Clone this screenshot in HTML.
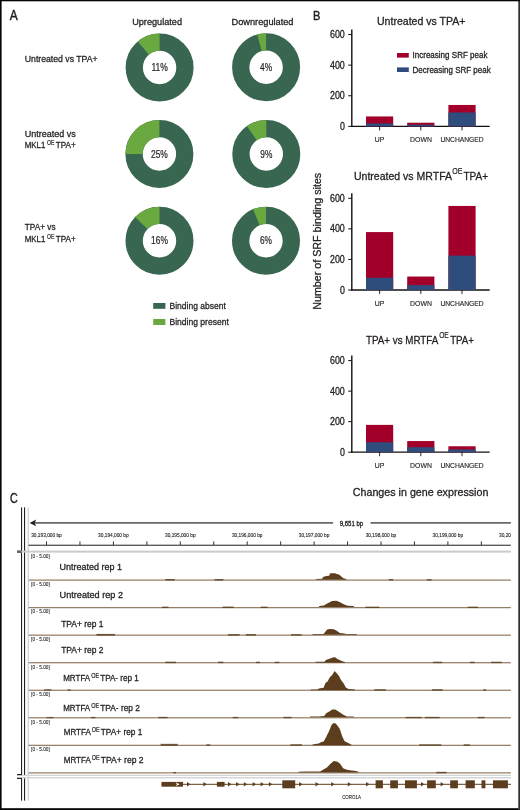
<!DOCTYPE html>
<html><head><meta charset="utf-8"><style>html,body{margin:0;padding:0;background:#fff;}svg{display:block;filter:blur(0.4px);}</style></head>
<body><svg width="520" height="810" viewBox="0 0 520 810" font-family="Liberation Sans, sans-serif" stroke-linejoin="round"><rect x="0" y="0" width="520" height="810" fill="#fff"/>
<rect x="518.3" y="0" width="1.7" height="810" fill="#303030"/>
<rect x="0" y="0" width="520" height="1.3" fill="#050505"/>
<rect x="0" y="0" width="1.6" height="810" fill="#050505"/>
<rect x="0" y="808.2" width="518.5" height="1.8" fill="#050505"/>
<text x="9.8" y="19.6" font-size="13.8" fill="#231f20" stroke="#231f20" stroke-width="0.45" textLength="8.0" lengthAdjust="spacingAndGlyphs">A</text>
<text x="312.9" y="19.5" font-size="13.2" fill="#231f20" stroke="#231f20" stroke-width="0.45" textLength="7.4" lengthAdjust="spacingAndGlyphs">B</text>
<text x="10.0" y="503.2" font-size="13.8" fill="#231f20" stroke="#231f20" stroke-width="0.45" textLength="7.7" lengthAdjust="spacingAndGlyphs">C</text>
<text x="132.2" y="25" font-size="9.6" fill="#231f20" stroke="#231f20" stroke-width="0.3" textLength="49.8" lengthAdjust="spacingAndGlyphs">Upregulated</text>
<text x="231.5" y="25" font-size="9.6" fill="#231f20" stroke="#231f20" stroke-width="0.3" textLength="62.0" lengthAdjust="spacingAndGlyphs">Downregulated</text>
<circle cx="159.6" cy="67.5" r="25.35" fill="none" stroke="#386650" stroke-width="17.3"/>
<path d="M159.6,33.5 A34,34 0 0 0 137.75,41.45 L148.87,54.71 A16.7,16.7 0 0 1 159.6,50.8 Z" fill="#6aa840"/>
<text x="159.6" y="71.0" font-size="10.0" fill="#231f20" stroke="#231f20" stroke-width="0.2" text-anchor="middle" textLength="16.4" lengthAdjust="spacingAndGlyphs">11%</text>
<circle cx="266.1" cy="67.3" r="25.35" fill="none" stroke="#386650" stroke-width="17.3"/>
<path d="M266.1,33.3 A34,34 0 0 0 257.19,34.49 L261.72,51.18 A16.7,16.7 0 0 1 266.1,50.599999999999994 Z" fill="#6aa840"/>
<text x="266.1" y="70.8" font-size="10.0" fill="#231f20" stroke="#231f20" stroke-width="0.2" text-anchor="middle" textLength="12.0" lengthAdjust="spacingAndGlyphs">4%</text>
<circle cx="159.4" cy="154" r="25.35" fill="none" stroke="#386650" stroke-width="17.3"/>
<path d="M159.4,120 A34,34 0 0 0 125.40,154.00 L142.70,154.00 A16.7,16.7 0 0 1 159.4,137.3 Z" fill="#6aa840"/>
<text x="159.4" y="157.5" font-size="10.0" fill="#231f20" stroke="#231f20" stroke-width="0.2" text-anchor="middle" textLength="16.8" lengthAdjust="spacingAndGlyphs">25%</text>
<circle cx="266.3" cy="154" r="25.35" fill="none" stroke="#386650" stroke-width="17.3"/>
<path d="M266.3,120 A34,34 0 0 0 246.90,126.08 L256.77,140.29 A16.7,16.7 0 0 1 266.3,137.3 Z" fill="#6aa840"/>
<text x="266.3" y="157.5" font-size="10.0" fill="#231f20" stroke="#231f20" stroke-width="0.2" text-anchor="middle" textLength="12.0" lengthAdjust="spacingAndGlyphs">9%</text>
<circle cx="159.5" cy="240.7" r="25.35" fill="none" stroke="#386650" stroke-width="17.3"/>
<path d="M159.5,206.7 A34,34 0 0 0 135.04,217.08 L147.49,229.10 A16.7,16.7 0 0 1 159.5,224.0 Z" fill="#6aa840"/>
<text x="159.5" y="244.2" font-size="10.0" fill="#231f20" stroke="#231f20" stroke-width="0.2" text-anchor="middle" textLength="16.8" lengthAdjust="spacingAndGlyphs">16%</text>
<circle cx="266" cy="240.7" r="25.35" fill="none" stroke="#386650" stroke-width="17.3"/>
<path d="M266,206.7 A34,34 0 0 0 253.04,209.27 L259.64,225.26 A16.7,16.7 0 0 1 266,224.0 Z" fill="#6aa840"/>
<text x="266" y="244.2" font-size="10.0" fill="#231f20" stroke="#231f20" stroke-width="0.2" text-anchor="middle" textLength="12.0" lengthAdjust="spacingAndGlyphs">6%</text>
<text x="24.8" y="61.5" font-size="9.8" fill="#231f20" stroke="#231f20" stroke-width="0.3" textLength="72.8" lengthAdjust="spacingAndGlyphs">Untreated vs TPA+</text>
<text x="24.8" y="136.5" font-size="9.8" fill="#231f20" stroke="#231f20" stroke-width="0.3" textLength="51.0" lengthAdjust="spacingAndGlyphs">Untreated vs</text>
<text x="24.8" y="147.8" font-size="9.5" fill="#231f20" stroke="#231f20" stroke-width="0.3" textLength="20.6" lengthAdjust="spacingAndGlyphs">MKL1</text>
<text x="47.0" y="144.5" font-size="7.2" fill="#231f20" stroke="#231f20" stroke-width="0.2" textLength="7.4" lengthAdjust="spacingAndGlyphs">OE</text>
<text x="55.8" y="147.8" font-size="9.5" fill="#231f20" stroke="#231f20" stroke-width="0.3" textLength="20.0" lengthAdjust="spacingAndGlyphs">TPA+</text>
<text x="24.8" y="230" font-size="9.8" fill="#231f20" stroke="#231f20" stroke-width="0.3" textLength="30.8" lengthAdjust="spacingAndGlyphs">TPA+ vs</text>
<text x="24.8" y="241.8" font-size="9.5" fill="#231f20" stroke="#231f20" stroke-width="0.3" textLength="20.6" lengthAdjust="spacingAndGlyphs">MKL1</text>
<text x="47.0" y="238.5" font-size="7.2" fill="#231f20" stroke="#231f20" stroke-width="0.2" textLength="7.4" lengthAdjust="spacingAndGlyphs">OE</text>
<text x="55.8" y="241.8" font-size="9.5" fill="#231f20" stroke="#231f20" stroke-width="0.3" textLength="20.0" lengthAdjust="spacingAndGlyphs">TPA+</text>
<rect x="153.2" y="303" width="12.2" height="5.8" fill="#386650"/>
<rect x="153.2" y="319" width="12.2" height="6" fill="#6aa840"/>
<text x="169.5" y="308.9" font-size="9.8" fill="#231f20" stroke="#231f20" stroke-width="0.3" textLength="56.3" lengthAdjust="spacingAndGlyphs">Binding absent</text>
<text x="169.5" y="325" font-size="9.8" fill="#231f20" stroke="#231f20" stroke-width="0.3" textLength="59.3" lengthAdjust="spacingAndGlyphs">Binding present</text>
<line x1="351.8" y1="29.5" x2="351.8" y2="127.0" stroke="#111" stroke-width="1.4"/>
<line x1="351.1" y1="126.4" x2="489.7" y2="126.4" stroke="#111" stroke-width="1.3"/>
<line x1="348.2" y1="126.40" x2="351.8" y2="126.40" stroke="#111" stroke-width="1"/>
<text x="344.8" y="129.9" font-size="10" fill="#231f20" stroke="#231f20" stroke-width="0.3" text-anchor="end" textLength="4.9" lengthAdjust="spacingAndGlyphs">0</text>
<line x1="348.2" y1="95.77" x2="351.8" y2="95.77" stroke="#111" stroke-width="1"/>
<text x="344.8" y="99.26666666666668" font-size="10" fill="#231f20" stroke="#231f20" stroke-width="0.3" text-anchor="end" textLength="14.8" lengthAdjust="spacingAndGlyphs">200</text>
<line x1="348.2" y1="65.13" x2="351.8" y2="65.13" stroke="#111" stroke-width="1"/>
<text x="344.8" y="68.63333333333334" font-size="10" fill="#231f20" stroke="#231f20" stroke-width="0.3" text-anchor="end" textLength="14.8" lengthAdjust="spacingAndGlyphs">400</text>
<line x1="348.2" y1="34.50" x2="351.8" y2="34.50" stroke="#111" stroke-width="1"/>
<text x="344.8" y="38.0" font-size="10" fill="#231f20" stroke="#231f20" stroke-width="0.3" text-anchor="end" textLength="14.8" lengthAdjust="spacingAndGlyphs">600</text>
<rect x="366.00" y="116.44" width="27.2" height="9.96" fill="#a2002b"/>
<rect x="366.00" y="123.49" width="27.2" height="2.91" fill="#2e4c7c"/>
<line x1="379.6" y1="126.4" x2="379.6" y2="130.4" stroke="#111" stroke-width="0.9"/>
<rect x="407.20" y="122.72" width="27.2" height="3.68" fill="#a2002b"/>
<rect x="407.20" y="124.72" width="27.2" height="1.68" fill="#2e4c7c"/>
<line x1="420.8" y1="126.4" x2="420.8" y2="130.4" stroke="#111" stroke-width="0.9"/>
<rect x="448.40" y="104.96" width="27.2" height="21.44" fill="#a2002b"/>
<rect x="448.40" y="112.46" width="27.2" height="13.94" fill="#2e4c7c"/>
<line x1="462.0" y1="126.4" x2="462.0" y2="130.4" stroke="#111" stroke-width="0.9"/>
<text x="377" y="25" font-size="11.2" fill="#231f20" stroke="#231f20" stroke-width="0.3" textLength="88.5" lengthAdjust="spacingAndGlyphs">Untreated vs TPA+</text>
<rect x="397" y="53" width="11.8" height="4.6" fill="#a2002b"/>
<rect x="397" y="67.4" width="11.8" height="4.6" fill="#2e4c7c"/>
<text x="412.5" y="58.4" font-size="8.8" fill="#231f20" stroke="#231f20" stroke-width="0.3" textLength="75" lengthAdjust="spacingAndGlyphs">Increasing SRF peak</text>
<text x="412.5" y="72.6" font-size="8.8" fill="#231f20" stroke="#231f20" stroke-width="0.3" textLength="78.2" lengthAdjust="spacingAndGlyphs">Decreasing SRF peak</text>
<line x1="351.8" y1="193.3" x2="351.8" y2="290.6" stroke="#111" stroke-width="1.4"/>
<line x1="351.1" y1="290" x2="489.7" y2="290" stroke="#111" stroke-width="1.3"/>
<line x1="348.2" y1="290.00" x2="351.8" y2="290.00" stroke="#111" stroke-width="1"/>
<text x="344.8" y="293.5" font-size="10" fill="#231f20" stroke="#231f20" stroke-width="0.3" text-anchor="end" textLength="4.9" lengthAdjust="spacingAndGlyphs">0</text>
<line x1="348.2" y1="259.43" x2="351.8" y2="259.43" stroke="#111" stroke-width="1"/>
<text x="344.8" y="262.93333333333334" font-size="10" fill="#231f20" stroke="#231f20" stroke-width="0.3" text-anchor="end" textLength="14.8" lengthAdjust="spacingAndGlyphs">200</text>
<line x1="348.2" y1="228.87" x2="351.8" y2="228.87" stroke="#111" stroke-width="1"/>
<text x="344.8" y="232.36666666666667" font-size="10" fill="#231f20" stroke="#231f20" stroke-width="0.3" text-anchor="end" textLength="14.8" lengthAdjust="spacingAndGlyphs">400</text>
<line x1="348.2" y1="198.30" x2="351.8" y2="198.30" stroke="#111" stroke-width="1"/>
<text x="344.8" y="201.8" font-size="10" fill="#231f20" stroke="#231f20" stroke-width="0.3" text-anchor="end" textLength="14.8" lengthAdjust="spacingAndGlyphs">600</text>
<rect x="366.00" y="232.08" width="27.2" height="57.92" fill="#a2002b"/>
<rect x="366.00" y="277.77" width="27.2" height="12.23" fill="#2e4c7c"/>
<line x1="379.6" y1="290" x2="379.6" y2="294" stroke="#111" stroke-width="0.9"/>
<rect x="407.20" y="276.55" width="27.2" height="13.45" fill="#a2002b"/>
<rect x="407.20" y="285.11" width="27.2" height="4.89" fill="#2e4c7c"/>
<line x1="420.8" y1="290" x2="420.8" y2="294" stroke="#111" stroke-width="0.9"/>
<rect x="448.40" y="205.94" width="27.2" height="84.06" fill="#a2002b"/>
<rect x="448.40" y="255.61" width="27.2" height="34.39" fill="#2e4c7c"/>
<line x1="462.0" y1="290" x2="462.0" y2="294" stroke="#111" stroke-width="0.9"/>
<text x="354.0" y="180.2" font-size="11.2" fill="#231f20" stroke="#231f20" stroke-width="0.3" textLength="98.0" lengthAdjust="spacingAndGlyphs">Untreated vs MRTFA</text>
<text x="452.2" y="173.6" font-size="9.2" fill="#231f20" stroke="#231f20" stroke-width="0.2" textLength="10.2" lengthAdjust="spacingAndGlyphs">OE</text>
<text x="463.4" y="180.2" font-size="11.2" fill="#231f20" stroke="#231f20" stroke-width="0.3" textLength="24.6" lengthAdjust="spacingAndGlyphs">TPA+</text>
<line x1="351.8" y1="355.6" x2="351.8" y2="452.8" stroke="#111" stroke-width="1.4"/>
<line x1="351.1" y1="452.2" x2="489.7" y2="452.2" stroke="#111" stroke-width="1.3"/>
<line x1="348.2" y1="452.20" x2="351.8" y2="452.20" stroke="#111" stroke-width="1"/>
<text x="344.8" y="455.7" font-size="10" fill="#231f20" stroke="#231f20" stroke-width="0.3" text-anchor="end" textLength="4.9" lengthAdjust="spacingAndGlyphs">0</text>
<line x1="348.2" y1="421.67" x2="351.8" y2="421.67" stroke="#111" stroke-width="1"/>
<text x="344.8" y="425.1666666666667" font-size="10" fill="#231f20" stroke="#231f20" stroke-width="0.3" text-anchor="end" textLength="14.8" lengthAdjust="spacingAndGlyphs">200</text>
<line x1="348.2" y1="391.13" x2="351.8" y2="391.13" stroke="#111" stroke-width="1"/>
<text x="344.8" y="394.6333333333333" font-size="10" fill="#231f20" stroke="#231f20" stroke-width="0.3" text-anchor="end" textLength="14.8" lengthAdjust="spacingAndGlyphs">400</text>
<line x1="348.2" y1="360.60" x2="351.8" y2="360.60" stroke="#111" stroke-width="1"/>
<text x="344.8" y="364.1" font-size="10" fill="#231f20" stroke="#231f20" stroke-width="0.3" text-anchor="end" textLength="14.8" lengthAdjust="spacingAndGlyphs">600</text>
<rect x="366.00" y="424.87" width="27.2" height="27.33" fill="#a2002b"/>
<rect x="366.00" y="442.28" width="27.2" height="9.92" fill="#2e4c7c"/>
<line x1="379.6" y1="452.2" x2="379.6" y2="456.2" stroke="#111" stroke-width="0.9"/>
<rect x="407.20" y="441.06" width="27.2" height="11.14" fill="#a2002b"/>
<rect x="407.20" y="447.16" width="27.2" height="5.04" fill="#2e4c7c"/>
<line x1="420.8" y1="452.2" x2="420.8" y2="456.2" stroke="#111" stroke-width="0.9"/>
<rect x="448.40" y="446.25" width="27.2" height="5.95" fill="#a2002b"/>
<rect x="448.40" y="449.45" width="27.2" height="2.75" fill="#2e4c7c"/>
<line x1="462.0" y1="452.2" x2="462.0" y2="456.2" stroke="#111" stroke-width="0.9"/>
<text x="366.0" y="343.6" font-size="11.2" fill="#231f20" stroke="#231f20" stroke-width="0.3" textLength="72.3" lengthAdjust="spacingAndGlyphs">TPA+ vs MRTFA</text>
<text x="439.2" y="337.6" font-size="9.2" fill="#231f20" stroke="#231f20" stroke-width="0.2" textLength="9.6" lengthAdjust="spacingAndGlyphs">OE</text>
<text x="450.2" y="343.6" font-size="11.2" fill="#231f20" stroke="#231f20" stroke-width="0.3" textLength="23.8" lengthAdjust="spacingAndGlyphs">TPA+</text>
<text x="379.5" y="142.0" font-size="7.6" fill="#231f20" stroke="#231f20" stroke-width="0.15" text-anchor="middle" textLength="9.6" lengthAdjust="spacingAndGlyphs">UP</text>
<text x="421.0" y="142.0" font-size="7.6" fill="#231f20" stroke="#231f20" stroke-width="0.15" text-anchor="middle" textLength="21.8" lengthAdjust="spacingAndGlyphs">DOWN</text>
<text x="462.0" y="142.0" font-size="7.6" fill="#231f20" stroke="#231f20" stroke-width="0.15" text-anchor="middle" textLength="43.2" lengthAdjust="spacingAndGlyphs">UNCHANGED</text>
<text x="379.5" y="305.6" font-size="7.6" fill="#231f20" stroke="#231f20" stroke-width="0.15" text-anchor="middle" textLength="9.6" lengthAdjust="spacingAndGlyphs">UP</text>
<text x="421.0" y="305.6" font-size="7.6" fill="#231f20" stroke="#231f20" stroke-width="0.15" text-anchor="middle" textLength="21.8" lengthAdjust="spacingAndGlyphs">DOWN</text>
<text x="462.0" y="305.6" font-size="7.6" fill="#231f20" stroke="#231f20" stroke-width="0.15" text-anchor="middle" textLength="43.2" lengthAdjust="spacingAndGlyphs">UNCHANGED</text>
<text x="379.5" y="467.8" font-size="7.6" fill="#231f20" stroke="#231f20" stroke-width="0.15" text-anchor="middle" textLength="9.6" lengthAdjust="spacingAndGlyphs">UP</text>
<text x="421.0" y="467.8" font-size="7.6" fill="#231f20" stroke="#231f20" stroke-width="0.15" text-anchor="middle" textLength="21.8" lengthAdjust="spacingAndGlyphs">DOWN</text>
<text x="462.0" y="467.8" font-size="7.6" fill="#231f20" stroke="#231f20" stroke-width="0.15" text-anchor="middle" textLength="43.2" lengthAdjust="spacingAndGlyphs">UNCHANGED</text>
<text transform="translate(320.6,309.8) rotate(-90)" x="0" y="0" font-size="11.2" fill="#231f20" stroke="#231f20" stroke-width="0.3" textLength="137" lengthAdjust="spacingAndGlyphs">Number of SRF binding sites</text>
<text x="352.8" y="496.4" font-size="11.2" fill="#231f20" stroke="#231f20" stroke-width="0.3" textLength="135.6" lengthAdjust="spacingAndGlyphs">Changes in gene expression</text>
<rect x="21" y="507.4" width="1.1" height="267.6" fill="#222"/>
<rect x="24" y="507.4" width="1.1" height="267.6" fill="#222"/>
<rect x="21" y="778" width="1.1" height="22.6" fill="#222"/>
<rect x="24" y="777.9" width="1.1" height="22.7" fill="#222"/>
<rect x="27.7" y="507.4" width="1" height="293" fill="#c4c4c4"/>
<rect x="33" y="522.2" width="300.1" height="1.4" fill="#444"/>
<rect x="370.5" y="522.2" width="140.4" height="1.4" fill="#444"/>
<path d="M29.6,522.9 L36.2,519.6 L34.6,522.9 L36.2,526.2 Z" fill="#222"/>
<text x="339.7" y="525.8" font-size="6.6" fill="#231f20" stroke="#231f20" stroke-width="0.3" textLength="23.4" lengthAdjust="spacingAndGlyphs">9,651 bp</text>
<rect x="28.5" y="544.7" width="482.4" height="1.1" fill="#333"/>
<rect x="46.00" y="541.4" width="1" height="3.6" fill="#333"/>
<rect x="79.45" y="541.4" width="1" height="3.6" fill="#333"/>
<rect x="112.90" y="541.4" width="1" height="3.6" fill="#333"/>
<rect x="146.35" y="541.4" width="1" height="3.6" fill="#333"/>
<rect x="179.80" y="541.4" width="1" height="3.6" fill="#333"/>
<rect x="213.25" y="541.4" width="1" height="3.6" fill="#333"/>
<rect x="246.70" y="541.4" width="1" height="3.6" fill="#333"/>
<rect x="280.15" y="541.4" width="1" height="3.6" fill="#333"/>
<rect x="313.60" y="541.4" width="1" height="3.6" fill="#333"/>
<rect x="347.05" y="541.4" width="1" height="3.6" fill="#333"/>
<rect x="380.50" y="541.4" width="1" height="3.6" fill="#333"/>
<rect x="413.95" y="541.4" width="1" height="3.6" fill="#333"/>
<rect x="447.40" y="541.4" width="1" height="3.6" fill="#333"/>
<rect x="480.85" y="541.4" width="1" height="3.6" fill="#333"/>
<text x="46.5" y="537.0" font-size="5.4" fill="#222" stroke="#222" stroke-width="0.12" text-anchor="middle" textLength="30.6" lengthAdjust="spacingAndGlyphs">30,193,000 bp</text>
<text x="113.4" y="537.0" font-size="5.4" fill="#222" stroke="#222" stroke-width="0.12" text-anchor="middle" textLength="30.6" lengthAdjust="spacingAndGlyphs">30,194,000 bp</text>
<text x="180.3" y="537.0" font-size="5.4" fill="#222" stroke="#222" stroke-width="0.12" text-anchor="middle" textLength="30.6" lengthAdjust="spacingAndGlyphs">30,195,000 bp</text>
<text x="247.20000000000002" y="537.0" font-size="5.4" fill="#222" stroke="#222" stroke-width="0.12" text-anchor="middle" textLength="30.6" lengthAdjust="spacingAndGlyphs">30,196,000 bp</text>
<text x="314.1" y="537.0" font-size="5.4" fill="#222" stroke="#222" stroke-width="0.12" text-anchor="middle" textLength="30.6" lengthAdjust="spacingAndGlyphs">30,197,000 bp</text>
<text x="381.0" y="537.0" font-size="5.4" fill="#222" stroke="#222" stroke-width="0.12" text-anchor="middle" textLength="30.6" lengthAdjust="spacingAndGlyphs">30,198,000 bp</text>
<text x="447.90000000000003" y="537.0" font-size="5.4" fill="#222" stroke="#222" stroke-width="0.12" text-anchor="middle" textLength="30.6" lengthAdjust="spacingAndGlyphs">30,199,000 bp</text>
<text x="499.0" y="537.0" font-size="5.4" fill="#222" stroke="#222" stroke-width="0.12" textLength="12.0" lengthAdjust="spacingAndGlyphs">30,20</text>
<rect x="17" y="550.6" width="494" height="2" fill="#cacacf"/>
<rect x="17" y="550.4" width="4.5" height="2.6" fill="#666"/>
<rect x="28.6" y="579.50" width="482.3" height="1.2" fill="#927a62"/>
<text x="31.1" y="558.4" font-size="5.4" fill="#222" stroke="#222" stroke-width="0.1" textLength="18.6" lengthAdjust="spacingAndGlyphs">[0 - 5.00]</text>
<text x="59.6" y="570.4" font-size="9.4" fill="#231f20" stroke="#231f20" stroke-width="0.3" textLength="62.5" lengthAdjust="spacingAndGlyphs">Untreated rep 1</text>
<rect x="28.6" y="607.04" width="482.3" height="1.2" fill="#927a62"/>
<text x="31.1" y="585.9399999999999" font-size="5.4" fill="#222" stroke="#222" stroke-width="0.1" textLength="18.6" lengthAdjust="spacingAndGlyphs">[0 - 5.00]</text>
<text x="59.6" y="597.5" font-size="9.4" fill="#231f20" stroke="#231f20" stroke-width="0.3" textLength="63.4" lengthAdjust="spacingAndGlyphs">Untreated rep 2</text>
<rect x="28.6" y="634.58" width="482.3" height="1.2" fill="#927a62"/>
<text x="31.1" y="613.48" font-size="5.4" fill="#222" stroke="#222" stroke-width="0.1" textLength="18.6" lengthAdjust="spacingAndGlyphs">[0 - 5.00]</text>
<text x="61.2" y="626.9" font-size="9.4" fill="#231f20" stroke="#231f20" stroke-width="0.3" textLength="42.3" lengthAdjust="spacingAndGlyphs">TPA+ rep 1</text>
<rect x="28.6" y="662.12" width="482.3" height="1.2" fill="#927a62"/>
<text x="31.1" y="641.02" font-size="5.4" fill="#222" stroke="#222" stroke-width="0.1" textLength="18.6" lengthAdjust="spacingAndGlyphs">[0 - 5.00]</text>
<text x="61.2" y="653.3" font-size="9.4" fill="#231f20" stroke="#231f20" stroke-width="0.3" textLength="42.3" lengthAdjust="spacingAndGlyphs">TPA+ rep 2</text>
<rect x="28.6" y="689.66" width="482.3" height="1.2" fill="#927a62"/>
<text x="31.1" y="668.56" font-size="5.4" fill="#222" stroke="#222" stroke-width="0.1" textLength="18.6" lengthAdjust="spacingAndGlyphs">[0 - 5.00]</text>
<text x="63.2" y="681.2" font-size="9.4" fill="#231f20" stroke="#231f20" stroke-width="0.3" textLength="27.0" lengthAdjust="spacingAndGlyphs">MRTFA</text>
<text x="91.2" y="677.6" font-size="7.0" fill="#231f20" stroke="#231f20" stroke-width="0.2" textLength="8.0" lengthAdjust="spacingAndGlyphs">OE</text>
<text x="100.2" y="681.2" font-size="9.4" fill="#231f20" stroke="#231f20" stroke-width="0.3" textLength="38.599999999999994" lengthAdjust="spacingAndGlyphs">TPA- rep 1</text>
<rect x="28.6" y="717.20" width="482.3" height="1.2" fill="#927a62"/>
<text x="31.1" y="696.0999999999999" font-size="5.4" fill="#222" stroke="#222" stroke-width="0.1" textLength="18.6" lengthAdjust="spacingAndGlyphs">[0 - 5.00]</text>
<text x="63.2" y="711.2" font-size="9.4" fill="#231f20" stroke="#231f20" stroke-width="0.3" textLength="27.0" lengthAdjust="spacingAndGlyphs">MRTFA</text>
<text x="91.2" y="707.6" font-size="7.0" fill="#231f20" stroke="#231f20" stroke-width="0.2" textLength="8.0" lengthAdjust="spacingAndGlyphs">OE</text>
<text x="100.2" y="711.2" font-size="9.4" fill="#231f20" stroke="#231f20" stroke-width="0.3" textLength="39.8" lengthAdjust="spacingAndGlyphs">TPA- rep 2</text>
<rect x="28.6" y="744.74" width="482.3" height="1.2" fill="#927a62"/>
<text x="31.1" y="723.64" font-size="5.4" fill="#222" stroke="#222" stroke-width="0.1" textLength="18.6" lengthAdjust="spacingAndGlyphs">[0 - 5.00]</text>
<text x="63.8" y="735.4" font-size="9.4" fill="#231f20" stroke="#231f20" stroke-width="0.3" textLength="27.0" lengthAdjust="spacingAndGlyphs">MRTFA</text>
<text x="91.8" y="731.8" font-size="7.0" fill="#231f20" stroke="#231f20" stroke-width="0.2" textLength="8.0" lengthAdjust="spacingAndGlyphs">OE</text>
<text x="100.8" y="735.4" font-size="9.4" fill="#231f20" stroke="#231f20" stroke-width="0.3" textLength="41.5" lengthAdjust="spacingAndGlyphs">TPA+ rep 1</text>
<rect x="28.6" y="772.28" width="482.3" height="1.2" fill="#927a62"/>
<text x="31.1" y="751.18" font-size="5.4" fill="#222" stroke="#222" stroke-width="0.1" textLength="18.6" lengthAdjust="spacingAndGlyphs">[0 - 5.00]</text>
<text x="63.8" y="763.1" font-size="9.4" fill="#231f20" stroke="#231f20" stroke-width="0.3" textLength="27.0" lengthAdjust="spacingAndGlyphs">MRTFA</text>
<text x="91.8" y="759.5" font-size="7.0" fill="#231f20" stroke="#231f20" stroke-width="0.2" textLength="8.0" lengthAdjust="spacingAndGlyphs">OE</text>
<text x="100.8" y="763.1" font-size="9.4" fill="#231f20" stroke="#231f20" stroke-width="0.3" textLength="42.7" lengthAdjust="spacingAndGlyphs">TPA+ rep 2</text>
<path d="M316,579.8 L316.2,578.9 L322.3,578.8 L322.9,577.1 L326.3,576 L329.2,575.7 L330.2,573.3 L335,573.3 L336.7,573.9 L339,574.5 L340.8,576 L343,577.9 L346,579 L347,579.8 Z" fill="#5c3e1e"/>
<path d="M318.8,607 L319.4,606.1 L324,605.6 L326.3,604.1 L329.2,602.4 L332.1,601 L336.2,600.7 L339,601.8 L341.9,603.3 L344.8,604.7 L347.7,605.8 L353.5,606.1 L354.4,607 Z" fill="#5c3e1e"/>
<path d="M312.5,634.8 L312.5,634.1 L323.5,634.1 L325.2,632.1 L326.9,629.8 L329.2,629 L333.8,629.2 L336.2,630.4 L338.5,632.1 L339.6,632.9 L342.5,633.3 L346.5,634.1 L356.9,634.1 L356.9,634.8 Z" fill="#5c3e1e"/>
<path d="M315.4,662.7 L315.4,661.8 L324.6,661.8 L325.8,660.1 L328.7,659 L331,658.2 L333.3,657.2 L335.6,657.5 L337.3,659 L339.6,660.1 L342.5,661.3 L344.8,662.1 L345.5,662.7 Z" fill="#5c3e1e"/>
<path d="M310.8,690.2 L310.8,689.4 L317.5,689.4 L318.8,688.6 L323.6,687.8 L325.6,682.8 L327.6,681.5 L329.6,677.4 L332.3,674.7 L334.7,671.1 L336.3,672.7 L339,676.1 L341,680.1 L343.7,683.5 L345.8,687.5 L348.5,688.9 L355.2,689.4 L355.2,690.2 Z" fill="#5c3e1e"/>
<path d="M310.1,717.2 L310.1,716.6 L318.8,716.4 L324.2,715.9 L326.2,713.2 L328.9,711.8 L332.3,709.4 L335.3,709.4 L337.7,711 L340.4,712.8 L343.7,715.1 L347.1,716.4 L353.8,716.6 L353.8,717.2 Z" fill="#5c3e1e"/>
<path d="M312.1,745.3 L312.1,744.9 L313.5,744.2 L318.8,743.6 L320.9,742.2 L323.6,741.6 L324.9,739.5 L326.9,735.5 L328.9,731.5 L330.3,728.1 L331.6,724.7 L333.6,723 L335.7,723.4 L337.7,726.1 L339.7,728.8 L341,732.8 L342.4,736.8 L344.4,740.9 L347.1,742.5 L349.8,743.8 L351.8,744.9 L352.5,745.3 Z" fill="#5c3e1e"/>
<path d="M298.5,772.6 L298.5,771.8 L305.4,771.4 L310,771.6 L320,771.4 L323.1,769.7 L326.9,767.4 L330.8,763.5 L333.8,760.9 L336.9,761.5 L340,763.5 L343.1,768.2 L346.9,769.7 L351.5,770.5 L354.6,770.8 L358.5,771.8 L358.5,772.6 Z" fill="#5c3e1e"/>
<rect x="165.3" y="579.00" width="9.30" height="1.50" fill="#5c3e1e" fill-opacity="0.85"/>
<rect x="214.5" y="579.05" width="8.90" height="1.45" fill="#5c3e1e" fill-opacity="0.85"/>
<rect x="388.7" y="579.10" width="4.60" height="1.40" fill="#5c3e1e" fill-opacity="0.85"/>
<rect x="426.8" y="579.10" width="4.70" height="1.40" fill="#5c3e1e" fill-opacity="0.85"/>
<rect x="162" y="606.64" width="6.50" height="1.40" fill="#5c3e1e" fill-opacity="0.85"/>
<rect x="222.5" y="606.59" width="11.20" height="1.45" fill="#5c3e1e" fill-opacity="0.85"/>
<rect x="260.7" y="606.64" width="6.90" height="1.40" fill="#5c3e1e" fill-opacity="0.85"/>
<rect x="365.4" y="606.64" width="14.00" height="1.40" fill="#5c3e1e" fill-opacity="0.85"/>
<rect x="467.8" y="606.64" width="10.20" height="1.40" fill="#5c3e1e" fill-opacity="0.85"/>
<rect x="96.4" y="633.93" width="18.60" height="1.65" fill="#5c3e1e" fill-opacity="0.85"/>
<rect x="228" y="634.08" width="11.70" height="1.50" fill="#5c3e1e" fill-opacity="0.85"/>
<rect x="245.8" y="634.08" width="10.20" height="1.50" fill="#5c3e1e" fill-opacity="0.85"/>
<rect x="291" y="634.13" width="10.60" height="1.45" fill="#5c3e1e" fill-opacity="0.85"/>
<rect x="165.3" y="661.67" width="10.70" height="1.45" fill="#5c3e1e" fill-opacity="0.85"/>
<rect x="217.9" y="661.67" width="5.50" height="1.45" fill="#5c3e1e" fill-opacity="0.85"/>
<rect x="256" y="661.72" width="4.00" height="1.40" fill="#5c3e1e" fill-opacity="0.85"/>
<rect x="274.7" y="661.72" width="4.60" height="1.40" fill="#5c3e1e" fill-opacity="0.85"/>
<rect x="432.9" y="661.72" width="9.30" height="1.40" fill="#5c3e1e" fill-opacity="0.85"/>
<rect x="470" y="661.72" width="4.70" height="1.40" fill="#5c3e1e" fill-opacity="0.85"/>
<rect x="491" y="661.72" width="10.70" height="1.40" fill="#5c3e1e" fill-opacity="0.85"/>
<rect x="44.3" y="689.31" width="7.00" height="1.35" fill="#5c3e1e" fill-opacity="0.85"/>
<rect x="67.5" y="689.36" width="3.30" height="1.30" fill="#5c3e1e" fill-opacity="0.85"/>
<rect x="374.3" y="689.21" width="11.50" height="1.45" fill="#5c3e1e" fill-opacity="0.85"/>
<rect x="431.9" y="689.21" width="10.90" height="1.45" fill="#5c3e1e" fill-opacity="0.85"/>
<rect x="483.3" y="689.26" width="2.80" height="1.40" fill="#5c3e1e" fill-opacity="0.85"/>
<rect x="46.6" y="716.95" width="7.00" height="1.25" fill="#5c3e1e" fill-opacity="0.85"/>
<rect x="90.8" y="716.90" width="4.70" height="1.30" fill="#5c3e1e" fill-opacity="0.85"/>
<rect x="158.3" y="716.85" width="9.30" height="1.35" fill="#5c3e1e" fill-opacity="0.85"/>
<rect x="232.7" y="716.90" width="5.60" height="1.30" fill="#5c3e1e" fill-opacity="0.85"/>
<rect x="283.5" y="716.80" width="8.00" height="1.40" fill="#5c3e1e" fill-opacity="0.85"/>
<rect x="405.5" y="716.85" width="16.20" height="1.35" fill="#5c3e1e" fill-opacity="0.85"/>
<rect x="424.8" y="716.85" width="14.90" height="1.35" fill="#5c3e1e" fill-opacity="0.85"/>
<rect x="477.7" y="716.85" width="6.90" height="1.35" fill="#5c3e1e" fill-opacity="0.85"/>
<rect x="160.6" y="743.84" width="17.20" height="1.90" fill="#5c3e1e" fill-opacity="0.85"/>
<rect x="206.2" y="744.34" width="4.20" height="1.40" fill="#5c3e1e" fill-opacity="0.85"/>
<rect x="290.4" y="744.24" width="11.60" height="1.50" fill="#5c3e1e" fill-opacity="0.85"/>
<rect x="419.2" y="744.29" width="22.10" height="1.45" fill="#5c3e1e" fill-opacity="0.85"/>
<rect x="463.7" y="744.34" width="6.30" height="1.40" fill="#5c3e1e" fill-opacity="0.85"/>
<rect x="173.2" y="771.98" width="2.80" height="1.30" fill="#5c3e1e" fill-opacity="0.85"/>
<rect x="436.3" y="771.83" width="10.30" height="1.45" fill="#5c3e1e" fill-opacity="0.85"/>
<rect x="17" y="774.8" width="494" height="1.1" fill="#cfd0d4"/>
<rect x="17" y="777.1" width="494" height="1.3" fill="#cfd0d4"/>
<rect x="17" y="774" width="5" height="1.1" fill="#222"/>
<rect x="17" y="777.9" width="5" height="1.1" fill="#222"/>
<rect x="161.5" y="783.8" width="349.5" height="1" fill="#5c3e1e"/>
<rect x="161.5" y="781.90" width="21.50" height="4.8" fill="#5c3e1e"/>
<rect x="216.9" y="781.90" width="7.70" height="4.8" fill="#5c3e1e"/>
<rect x="282.3" y="780.30" width="12.90" height="8" fill="#5c3e1e"/>
<rect x="375.6" y="780.30" width="7.30" height="8" fill="#5c3e1e"/>
<rect x="390.2" y="780.30" width="7.70" height="8" fill="#5c3e1e"/>
<rect x="405" y="780.30" width="11.90" height="8" fill="#5c3e1e"/>
<rect x="427.1" y="780.30" width="8.70" height="8" fill="#5c3e1e"/>
<rect x="450.2" y="780.30" width="7.70" height="8" fill="#5c3e1e"/>
<rect x="465.6" y="780.30" width="9.20" height="8" fill="#5c3e1e"/>
<rect x="481.5" y="780.30" width="3.90" height="8" fill="#5c3e1e"/>
<rect x="493" y="780.30" width="14.90" height="8" fill="#5c3e1e"/>
<path d="M187.00,782.10 L190.40,784.30 L187.00,786.50 Z" fill="#5c3e1e"/>
<path d="M203.40,782.10 L206.80,784.30 L203.40,786.50 Z" fill="#5c3e1e"/>
<path d="M228.00,782.10 L231.40,784.30 L228.00,786.50 Z" fill="#5c3e1e"/>
<path d="M236.10,782.10 L239.50,784.30 L236.10,786.50 Z" fill="#5c3e1e"/>
<path d="M243.80,782.10 L247.20,784.30 L243.80,786.50 Z" fill="#5c3e1e"/>
<path d="M252.60,782.10 L256.00,784.30 L252.60,786.50 Z" fill="#5c3e1e"/>
<path d="M260.60,782.10 L264.00,784.30 L260.60,786.50 Z" fill="#5c3e1e"/>
<path d="M268.90,782.10 L272.30,784.30 L268.90,786.50 Z" fill="#5c3e1e"/>
<path d="M299.10,782.10 L302.50,784.30 L299.10,786.50 Z" fill="#5c3e1e"/>
<path d="M315.50,782.10 L318.90,784.30 L315.50,786.50 Z" fill="#5c3e1e"/>
<path d="M331.20,782.10 L334.60,784.30 L331.20,786.50 Z" fill="#5c3e1e"/>
<path d="M347.80,782.10 L351.20,784.30 L347.80,786.50 Z" fill="#5c3e1e"/>
<path d="M366.10,782.10 L369.50,784.30 L366.10,786.50 Z" fill="#5c3e1e"/>
<path d="M421.00,782.10 L424.40,784.30 L421.00,786.50 Z" fill="#5c3e1e"/>
<path d="M440.60,782.10 L444.00,784.30 L440.60,786.50 Z" fill="#5c3e1e"/>
<path d="M175.5,782.30 L179.6,784.30 L175.5,786.30 L177,784.30 Z" fill="#fff"/>
<text x="351.5" y="798.9" font-size="5.4" fill="#222" stroke="#222" stroke-width="0.1" text-anchor="middle" textLength="18.7" lengthAdjust="spacingAndGlyphs">CORO1A</text></svg></body></html>
